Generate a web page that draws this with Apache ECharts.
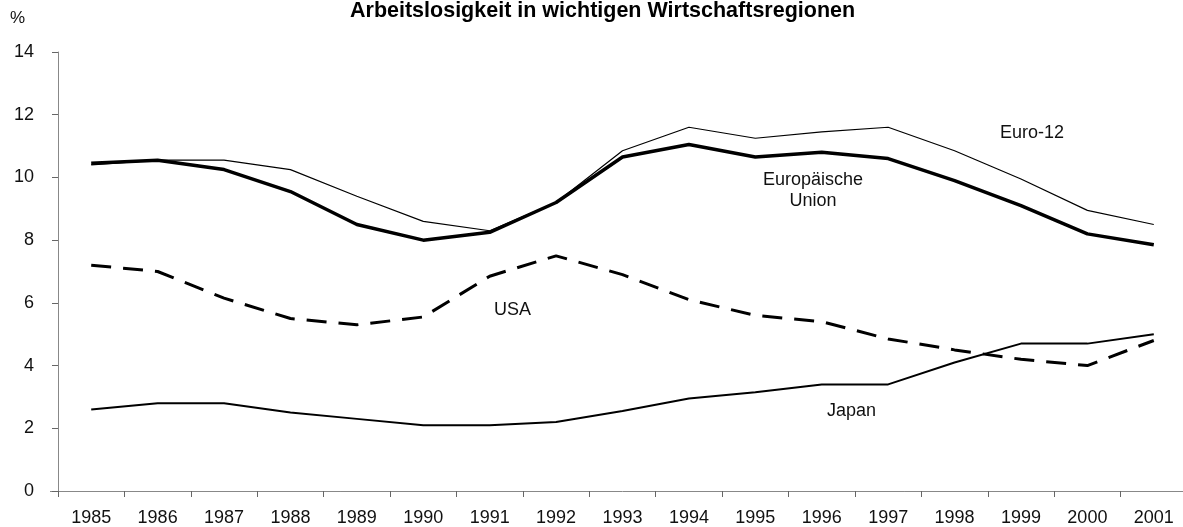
<!DOCTYPE html>
<html>
<head>
<meta charset="utf-8">
<script src="https://cdn.jsdelivr.net/npm/echarts@6/dist/echarts.min.js"></script>
<style>
  html, body { margin: 0; padding: 0; background: #fff; overflow: hidden; }
  #main { width: 1190px; height: 527px; }
</style>
</head>
<body>
<div id="main"></div>
<script>
// Jahre und Arbeitslosenquoten (%)
var years = ['1985','1986','1987','1988','1989','1990','1991','1992','1993','1994','1995','1996','1997','1998','1999','2000','2001'];
var euro12 = [10.4, 10.55, 10.55, 10.25, 9.4, 8.6, 8.3, 9.2, 10.85, 11.6, 11.25, 11.45, 11.6, 10.85, 9.95, 8.95, 8.5];
var eu     = [10.45, 10.55, 10.25, 9.55, 8.5, 8.0, 8.25, 9.2, 10.65, 11.05, 10.65, 10.8, 10.6, 9.9, 9.1, 8.2, 7.85];
var usa    = [7.2, 7.0, 6.15, 5.5, 5.3, 5.55, 6.85, 7.5, 6.9, 6.1, 5.6, 5.4, 4.85, 4.5, 4.2, 4.0, 4.8];
var japan  = [2.6, 2.8, 2.8, 2.5, 2.3, 2.1, 2.1, 2.2, 2.55, 2.95, 3.15, 3.4, 3.4, 4.1, 4.7, 4.7, 5.0];
var yTicks = [0, 2, 4, 6, 8, 10, 12, 14];

var font = '"Liberation Sans", Arial, Helvetica, sans-serif';
// div is a little wider than the window so the last category reaches the edge
var chart = echarts.init(document.getElementById('main'));

function lbl(x, y, txt) {
    return {
        type: 'text', left: x, top: y,
        style: { text: txt, font: '18px ' + font, fill: '#111', textAlign: 'center', lineHeight: 21 }
    };
}

var option = {
    animation: false,
    backgroundColor: '#fff',
    title: {
        text: 'Arbeitslosigkeit in wichtigen Wirtschaftsregionen',
        left: 345, top: -5,
        textStyle: { fontFamily: font, fontSize: 21.5, fontWeight: 'bold', color: '#000' }
    },
    grid: { left: 58, right: 3, top: 52, bottom: 36, containLabel: false },
    xAxis: {
        type: 'category',
        data: years,
        boundaryGap: true,
        axisLine: { lineStyle: { color: '#888', width: 1 } },
        axisTick: { show: true, length: 6, lineStyle: { color: '#666' } },
        axisLabel: { color: '#111', fontFamily: font, fontSize: 18, margin: 18, interval: 0 },
        splitLine: { show: false }
    },
    yAxis: {
        type: 'value',
        min: yTicks[0], max: yTicks[yTicks.length - 1], interval: 2,
        axisLine: { show: true, lineStyle: { color: '#888', width: 1 } },
        axisTick: { show: true, length: 6, lineStyle: { color: '#666' } },
        axisLabel: { color: '#111', fontFamily: font, fontSize: 18, margin: 24 },
        splitLine: { show: false }
    },
    series: [
        { name: 'Euro-12', type: 'line', data: euro12, symbol: 'none',
          lineStyle: { color: '#000', width: 1.2 } },
        { name: 'Europäische Union', type: 'line', data: eu, symbol: 'none',
          lineStyle: { color: '#000', width: 3.5 } },
        { name: 'USA', type: 'line', data: usa, symbol: 'none',
          lineStyle: { color: '#000', width: 3, type: [20, 12] } },
        { name: 'Japan', type: 'line', data: japan, symbol: 'none',
          lineStyle: { color: '#000', width: 2 } }
    ],
    graphic: [
        { type: 'text', left: 10, top: 10,
          style: { text: '%', font: '17px ' + font, fill: '#111' } },
        // kurzer Überstand der x-Achse links der y-Achse
        { type: 'line', shape: { x1: 50, y1: 491.5, x2: 58, y2: 491.5 },
          style: { stroke: '#888', lineWidth: 1 } },
        lbl(1000, 123, 'Euro-12'),
        lbl(763, 170, 'Europäische\nUnion'),
        lbl(494, 300, 'USA'),
        lbl(827, 401, 'Japan')
    ]
};
chart.setOption(option);
</script>
</body>
</html>
